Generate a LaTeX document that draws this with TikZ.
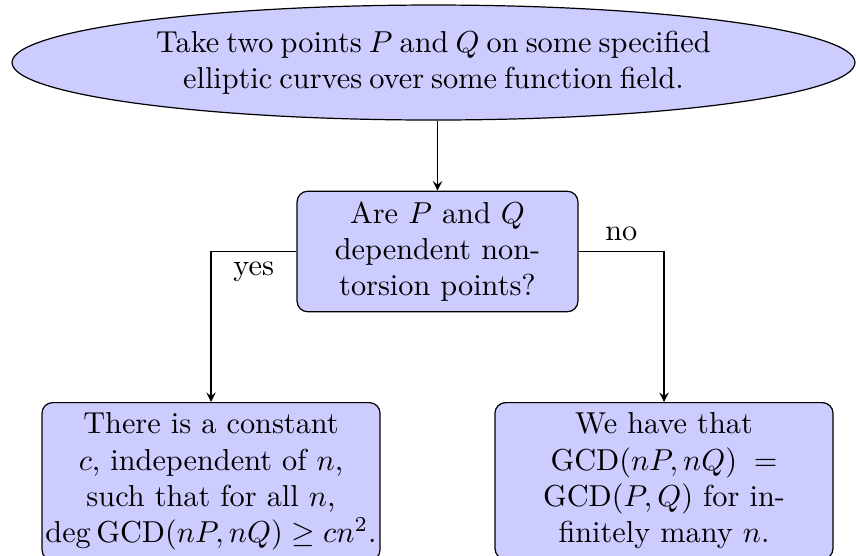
\documentclass[tikz,border=0pt]{standalone}
\usepackage{amsmath}
\usetikzlibrary{shapes.geometric,arrows}
\newcommand{\tightspaces}{\spaceskip=2.35pt plus 1pt minus 0.5pt\relax}
\begin{document}
\begin{tikzpicture}[x=1pt,y=1pt,
  startell/.style={ellipse, draw, fill=blue!20, inner sep=0pt, align=center, minimum width=278.2pt, minimum height=37.95pt},
  decbox/.style={rectangle, draw, fill=blue!20, rounded corners=3.5pt, align=center, minimum width=92.7pt, minimum height=38.6pt, inner sep=3.33pt},
  resbox/.style={rectangle, draw, fill=blue!20, rounded corners=3.5pt, align=center, minimum width=111.55pt, inner xsep=0.8pt, inner ysep=3.33pt, anchor=north},
  conn/.style={draw, -stealth, line width=0.4pt}
]
\useasboundingbox (0,0) rectangle (282.51,-183.17);
\node[startell] (e) at (143.07,-20.63) {\tightspaces Take two points $P$ and $Q$ on some specified\\ \tightspaces elliptic curves over some function field.};
\node[decbox] (d) at (144.39,-83.0) {Are $P$ and $Q$\\ dependent non-\\ torsion points?};
\node[resbox] (l) at (69.64,-132.67) {There is a constant\\ $c$, independent of $n$,\\ such that for all $n$,\\ $\deg\operatorname{GCD}(nP,nQ)\geq cn^2$.};
\node[resbox] (r) at (219.14,-132.67) {We have that\\ $\operatorname{GCD}(nP,nQ)\;=$\\ $\operatorname{GCD}(P,Q)$ for in-\\ finitely many $n$.};
\draw[conn] (e.south -| d.north) -- (d.north);
\draw[conn] (d.west) -| node[pos=0.25, below] {yes} (l.north);
\draw[conn] (d.east) -| node[pos=0.25, above] {no} (r.north);
\end{tikzpicture}
\end{document}
